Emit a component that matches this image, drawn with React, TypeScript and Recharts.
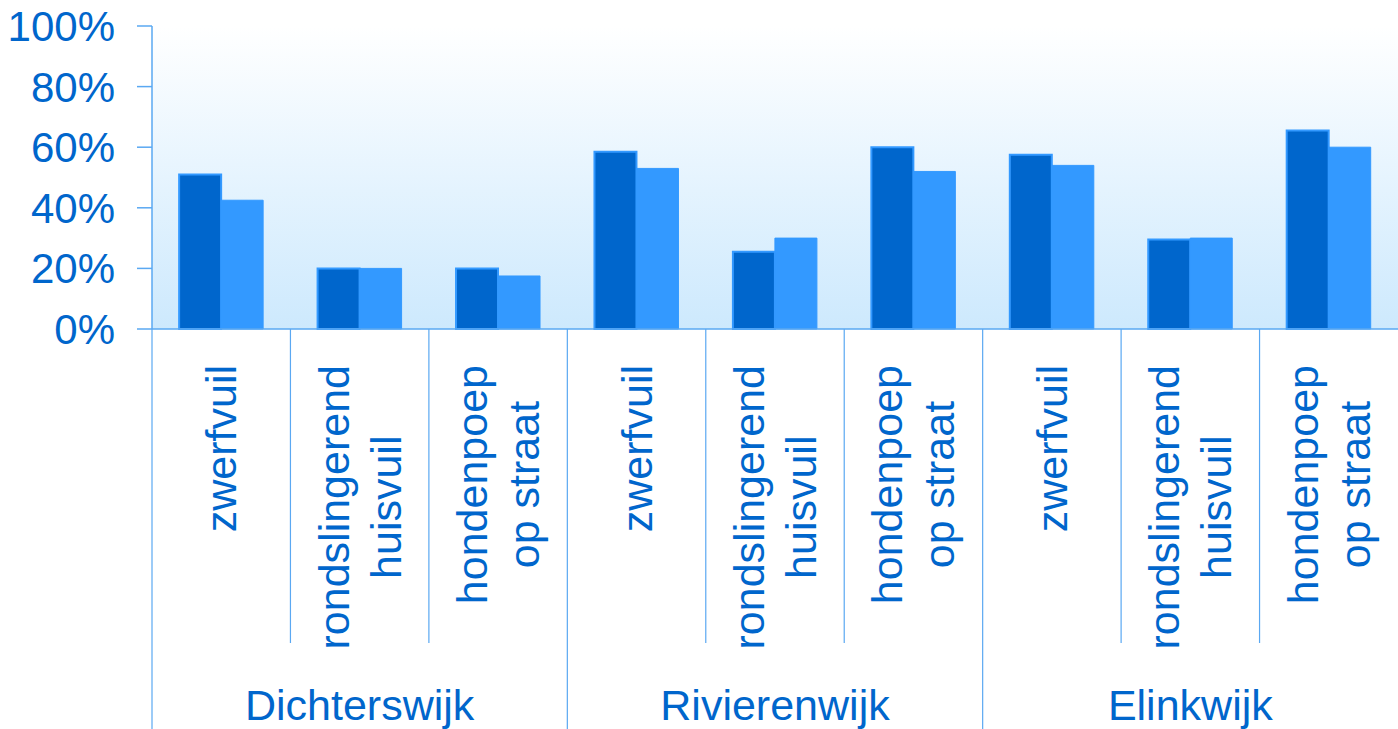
import React from "react"
import { BarChart, Bar, XAxis, YAxis, CartesianGrid } from "recharts"

const groups = ["Dichterswijk", "Rivierenwijk", "Elinkwijk"]
const topics = ["zwerfvuil", "rondslingerend|huisvuil", "hondenpoep|op straat"]
const darkValues = [51, 20, 20, 58.5, 25.5, 60, 57.5, 29.5, 65.5]
const lightValues = [42.5, 20, 17.5, 53, 30, 52, 54, 30, 60]
const yTicks = [0, 20, 40, 60, 80, 100]

const data = groups.flatMap((g, gi) =>
  topics.map((t, ti) => ({
    key: g + "#" + t,
    group: g,
    topic: t,
    dark: darkValues[gi * 3 + ti],
    light: lightValues[gi * 3 + ti],
  }))
)

const W = 1398
const H = 729
const TOP = 26
const LEFT = 152
const PLOT_H = 303
const CAT_AXIS_H = 314
const GRP_AXIS_H = H - TOP - PLOT_H - CAT_AXIS_H
const BASE_Y = TOP + PLOT_H
const BAND = (W - LEFT) / data.length
const TEXT = "#0066CC"
const LINE = "#5AA8F2"
const FONT = "'Liberation Sans', Arial, sans-serif"
const CAT_SIZE = 43

let ctx: CanvasRenderingContext2D | null = null
const measure = (s: string, size: number) => {
  if (!ctx) ctx = document.createElement("canvas").getContext("2d")
  if (!ctx) return s.length * size * 0.5
  ctx.font = `${size}px ${FONT}`
  return ctx.measureText(s).width
}

const YTick = (props: any) => {
  const { x, y, payload } = props
  return (
    <text x={x} y={y} dy={15} textAnchor="end" fill={TEXT} fontSize={42} fontFamily={FONT}>
      {payload.value}%
    </text>
  )
}

const TopicTick = (props: any) => {
  const { x, payload, index } = props
  const lines = String(payload.value).split("#")[1].split("|")
  const left = x - BAND / 2
  const longest = Math.max(...lines.map((l: string) => measure(l, CAT_SIZE)))
  return (
    <g>
      {index % 3 !== 0 && (
        <line x1={left} x2={left} y1={BASE_Y} y2={643} stroke={LINE} strokeWidth={1.2} />
      )}
      <g transform={`translate(${x}, ${BASE_Y + 36}) rotate(-90)`}>
        {lines.map((l: string, i: number) => (
          <text
            key={i}
            x={-longest / 2}
            y={(i - (lines.length - 1) / 2) * 52 + 15}
            textAnchor="middle"
            fill={TEXT}
            fontSize={CAT_SIZE}
            fontFamily={FONT}
          >
            {l}
          </text>
        ))}
      </g>
    </g>
  )
}

const GroupTick = (props: any) => {
  const { x, payload } = props
  const left = x - (BAND * 3) / 2
  return (
    <g>
      <line x1={left} x2={left} y1={BASE_Y} y2={H} stroke={LINE} strokeWidth={1.2} />
      <text x={x} y={H - 9} textAnchor="middle" fill={TEXT} fontSize={43} fontFamily={FONT}>
        {payload.value}
      </text>
    </g>
  )
}

export default function App() {
  return (
    <div style={{ position: "absolute", left: 0, top: 0, width: W, height: H, background: "#fff" }}>
      <BarChart
        width={W}
        height={H}
        data={data}
        margin={{ top: TOP, right: 0, left: 0, bottom: 0 }}
        barCategoryGap="19.6%"
        barGap={0}
      >
        <defs>
          <linearGradient id="bg" x1="0" y1="0" x2="0" y2="1">
            <stop offset="0%" stopColor="#FFFFFF" />
            <stop offset="100%" stopColor="#CDE9FD" />
          </linearGradient>
        </defs>
        <CartesianGrid horizontal={false} vertical={false} fill="url(#bg)" fillOpacity={1} />
        <YAxis
          type="number"
          domain={[0, 100]}
          ticks={yTicks}
          width={LEFT}
          tickSize={15}
          tickMargin={22}
          axisLine={{ stroke: LINE, strokeWidth: 1.5 }}
          tickLine={{ stroke: LINE, strokeWidth: 1.5 }}
          tick={<YTick />}
          interval={0}
        />
        <XAxis
          dataKey="key"
          height={CAT_AXIS_H}
          interval={0}
          tickLine={false}
          axisLine={{ stroke: LINE, strokeWidth: 1.5 }}
          tick={<TopicTick />}
        />
        <XAxis
          xAxisId="grp"
          dataKey="group"
          allowDuplicatedCategory={false}
          height={GRP_AXIS_H}
          interval={0}
          tickLine={false}
          axisLine={false}
          tick={<GroupTick />}
        />
        <Bar dataKey="dark" fill="#0066CC" stroke="#3399FF" strokeWidth={2} isAnimationActive={false} />
        <Bar dataKey="light" fill="#3399FF" stroke="#3399FF" strokeWidth={1} isAnimationActive={false} />
      </BarChart>
    </div>
  )
}
